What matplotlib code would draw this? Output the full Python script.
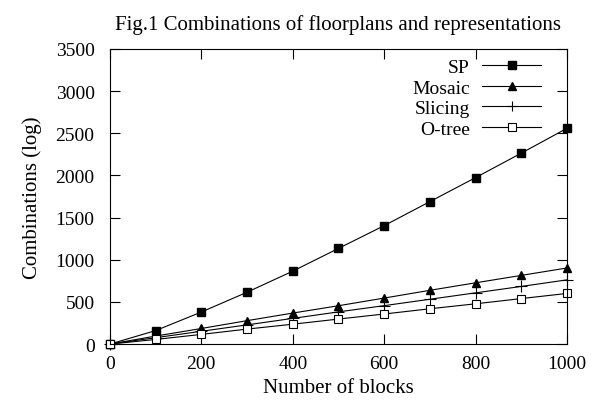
import numpy as np
import matplotlib
matplotlib.use("Agg")
from matplotlib import pyplot as plt

# data
blocks = [0, 100, 200, 300, 400, 500, 600, 700, 800, 900, 1000]
sp = [0, 160, 380, 615, 865, 1135, 1405, 1690, 1975, 2265, 2560]
mosaic = [0, 95, 185, 278, 368, 455, 546, 638, 727, 815, 903]
slicing = [0, 76, 152, 228, 305, 382, 456, 532, 608, 684, 762]
otree = [0, 55, 115, 178, 236, 297, 357, 419, 478, 540, 601]

plt.rcParams['font.family'] = ['Liberation Serif', 'DejaVu Serif']

fig = plt.figure(figsize=(5.97, 4.06), dpi=100)
ax = fig.add_axes([0.184, 0.150, 0.766, 0.727])

ax.plot(blocks, sp, color="black", lw=0.8, marker="s", ms=6, label="SP", clip_on=False)
ax.plot(blocks, mosaic, color="black", lw=0.8, marker="^", ms=6, label="Mosaic", clip_on=False)
ax.plot(blocks, slicing, color="black", lw=0.8, marker="+", ms=8, mew=0.8, label="Slicing", clip_on=False)
ax.plot(blocks, otree, color="black", lw=0.8, marker="s", ms=6, mfc="white", mew=0.8,
        label="O-tree", clip_on=False)

ax.set_xlim(0, 1000)
ax.set_ylim(0, 3500)
ax.set_xticks(np.arange(0, 1001, 200))
ax.set_yticks(np.arange(0, 3501, 500))
ax.tick_params(direction="in", top=True, right=True, length=7, width=0.8, labelsize=14)
ax.tick_params(axis="x", pad=8)
ax.tick_params(axis="y", pad=11)
for s in ax.spines.values():
    s.set_linewidth(0.8)

ax.set_xlabel("Number of blocks", fontsize=15, labelpad=4)
ax.set_ylabel("Combinations (log)", fontsize=15, labelpad=10)
ax.set_title("Fig.1 Combinations of floorplans and representations", fontsize=15, pad=14)

ax.legend(loc="upper right", frameon=False, markerfirst=False, fontsize=14,
          handlelength=3.0, labelspacing=0.15, borderaxespad=0.4, borderpad=0.3,
          handletextpad=0.65, markerscale=0.85, bbox_to_anchor=(0.972, 1.014))

fig.savefig("out.png", dpi=100)
